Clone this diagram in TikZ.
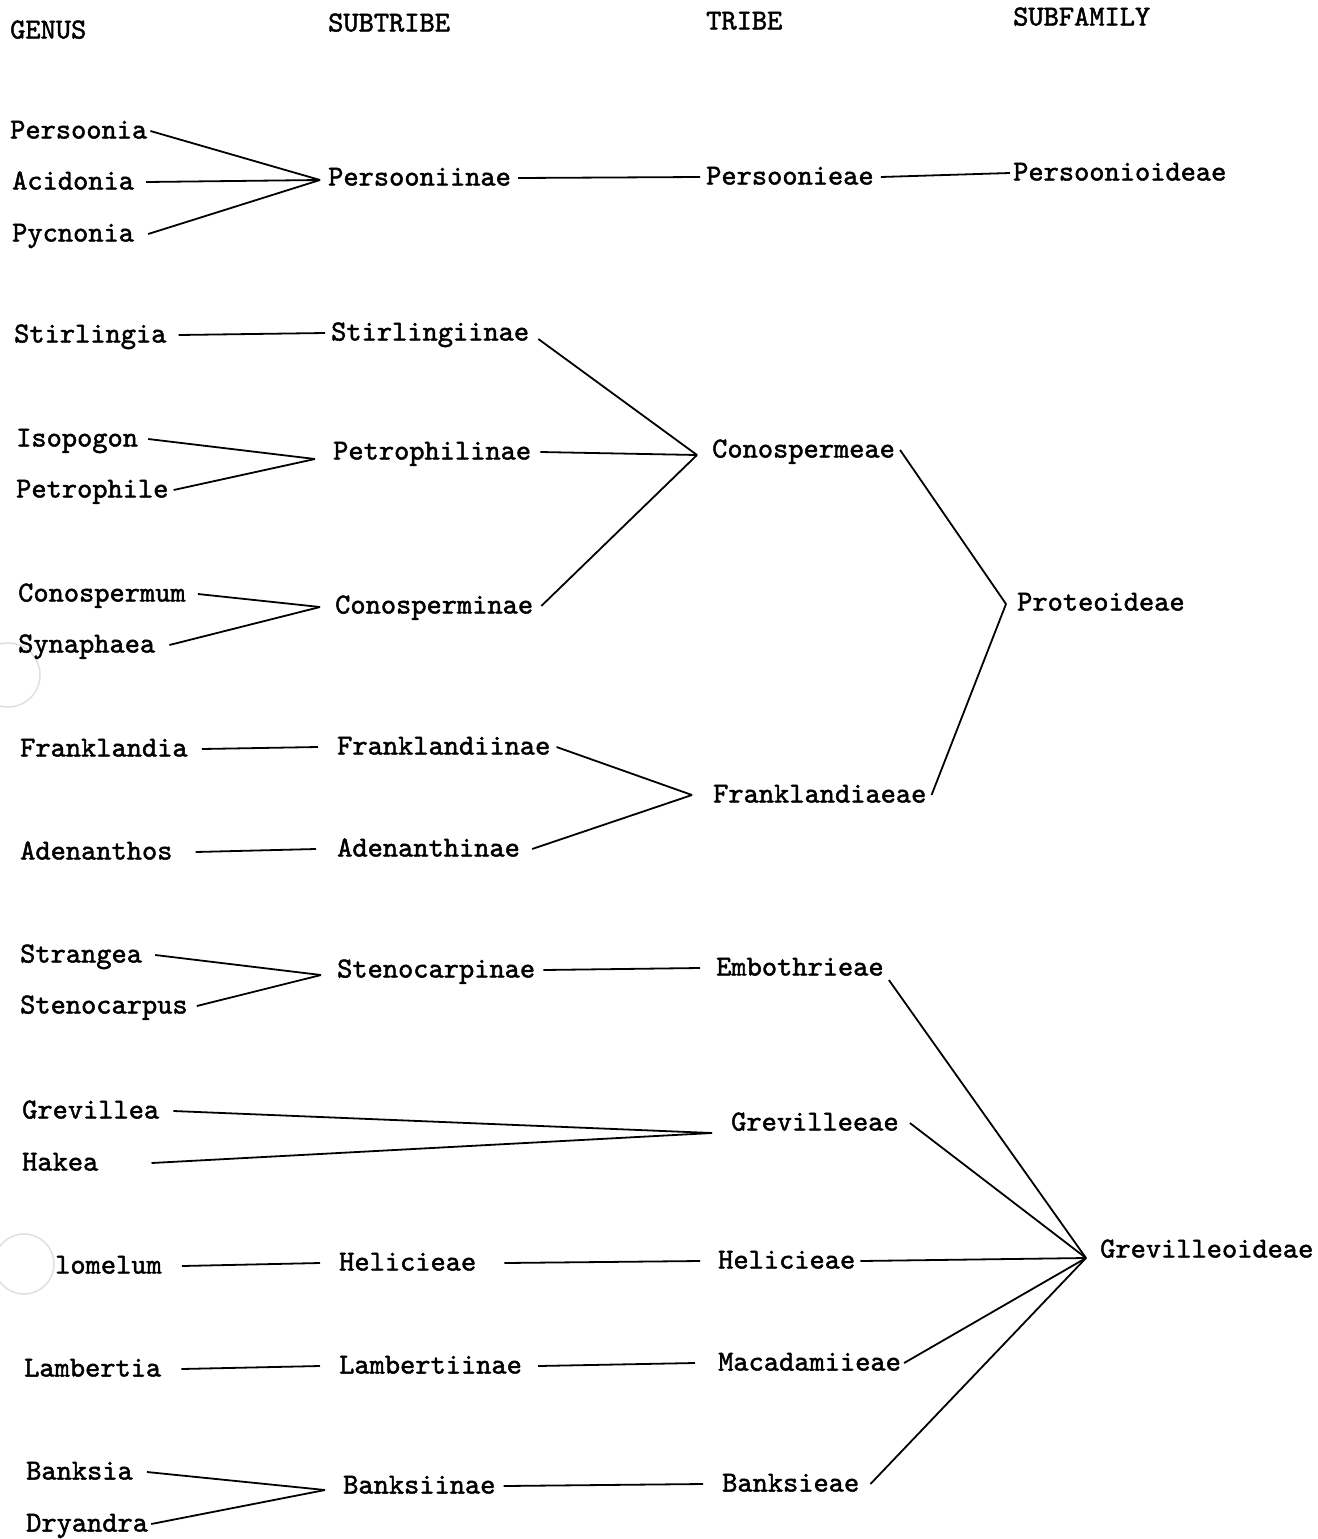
\documentclass[tikz,border=0pt]{standalone}
\usepackage{fontspec}
\setmonofont{lmmono10-regular}[Extension=.otf,FakeBold=1.6]
\begin{document}
\begin{tikzpicture}[x=1pt,y=-1pt,
  lbl/.style={anchor=west,inner sep=0pt,font=\ttfamily\fontsize{29}{34}\selectfont,text height=15pt,text depth=0pt},
  ln/.style={line width=1.8pt},
  hole/.style={draw=black!12,line width=1.5pt}]
\useasboundingbox[fill=white] (0,0) rectangle (1317,1539);
% punch-hole marks
\draw[hole] (8,675) circle (32);
\draw[hole] (24,1264) circle (30);
% headers
\node[lbl] (hgenus) at (10,31) {GENUS};
\node[lbl] (hsubtribe) at (328,24) {SUBTRIBE};
\node[lbl] (htribe) at (706,22) {TRIBE};
\node[lbl] (hsubfam) at (1013,18) {SUBFAMILY};
% genus
\node[lbl] (persoonia) at (10,131) {Persoonia};
\node[lbl] (acidonia) at (12,182) {Acidonia};
\node[lbl] (pycnonia) at (12,234) {Pycnonia};
\node[lbl] (stirlingia) at (14,335) {Stirlingia};
\node[lbl] (isopogon) at (16,439) {Isopogon};
\node[lbl] (petrophile) at (16,490) {Petrophile};
\node[lbl] (conospermum) at (18,594) {Conospermum};
\node[lbl] (synaphaea) at (18,645) {Synaphaea};
\node[lbl] (franklandia) at (20,749) {Franklandia};
\node[lbl] (adenanthos) at (20,852) {Adenanthos};
\node[lbl] (strangea) at (20,955) {Strangea};
\node[lbl] (stenocarpus) at (20,1006) {Stenocarpus};
\node[lbl] (grevillea) at (22,1111) {Grevillea};
\node[lbl] (hakea) at (22,1163) {Hakea};
\node[lbl] (lomelum) at (55,1266) {lomelum};
\node[lbl] (lambertia) at (24,1369) {Lambertia};
\node[lbl] (banksia) at (26,1472) {Banksia};
\node[lbl] (dryandra) at (26,1524) {Dryandra};
% subtribe
\node[lbl] (persooniinae) at (328,178) {Persooniinae};
\node[lbl] (stirlingiinae) at (331,333) {Stirlingiinae};
\node[lbl] (petrophilinae) at (333,452) {Petrophilinae};
\node[lbl] (conosperminae) at (335,606) {Conosperminae};
\node[lbl] (franklandiinae) at (337,747) {Franklandiinae};
\node[lbl] (adenanthinae) at (337,849) {Adenanthinae};
\node[lbl] (stenocarpinae) at (337,970) {Stenocarpinae};
\node[lbl] (helsub) at (339,1263) {Helicieae};
\node[lbl] (lambertiinae) at (339,1366) {Lambertiinae};
\node[lbl] (banksiinae) at (343,1486) {Banksiinae};
% tribe
\node[lbl] (persoonieae) at (706,177) {Persoonieae};
\node[lbl] (conospermeae) at (712,450) {Conospermeae};
\node[lbl] (franklandiaeae) at (713,795) {Franklandiaeae};
\node[lbl] (embothrieae) at (716,968) {Embothrieae};
\node[lbl] (grevilleeae) at (731,1123) {Grevilleeae};
\node[lbl] (heltri) at (718,1261) {Helicieae};
\node[lbl] (macadamiieae) at (718,1363) {Macadamiieae};
\node[lbl] (banksieae) at (722,1484) {Banksieae};
% subfamily
\node[lbl] (persoonioideae) at (1013,173) {Persoonioideae};
\node[lbl] (proteoideae) at (1017,603) {Proteoideae};
\node[lbl] (grevilleoideae) at (1100,1250) {Grevilleoideae};
% junctions
\coordinate (jPers) at (320,180);
\coordinate (jPet) at (315,459);
\coordinate (jCon) at (697,455);
\coordinate (jCs) at (320,607);
\coordinate (jProt) at (1006,604);
\coordinate (jFr) at (692,795);
\coordinate (jSt) at (321,975);
\coordinate (jGv) at (712,1133);
\coordinate (jGrev) at (1086,1258);
\coordinate (jB) at (325,1490);
% connectors
\draw[ln] ([xshift=3pt]persoonia.east) -- (jPers);
\draw[ln] ([xshift=12pt]acidonia.east) -- (jPers);
\draw[ln] ([xshift=14pt]pycnonia.east) -- (jPers);
\draw[ln] ([xshift=7pt]persooniinae.east) -- ([xshift=-6pt]persoonieae.west);
\draw[ln] ([xshift=7pt]persoonieae.east) -- ([xshift=-3pt]persoonioideae.west);
\draw[ln] ([xshift=12pt]stirlingia.east) -- ([xshift=-6pt]stirlingiinae.west);
\draw[ln] ([xshift=9pt,yshift=-6pt]stirlingiinae.east) -- (jCon);
\draw[ln] ([xshift=10pt]isopogon.east) -- (jPet);
\draw[ln] ([xshift=5pt]petrophile.east) -- (jPet);
\draw[ln] ([xshift=9pt]petrophilinae.east) -- (jCon);
\draw[ln] ([xshift=8pt]conosperminae.east) -- (jCon);
\draw[ln] ([xshift=12pt]conospermum.east) -- (jCs);
\draw[ln] ([xshift=14pt]synaphaea.east) -- (jCs);
\draw[ln] ([xshift=5pt]conospermeae.east) -- (jProt);
\draw[ln] ([xshift=5pt]franklandiaeae.east) -- (jProt);
\draw[ln] ([xshift=14pt]franklandia.east) -- ([xshift=-19pt]franklandiinae.west);
\draw[ln] ([xshift=6pt]franklandiinae.east) -- (jFr);
\draw[ln] ([xshift=23pt]adenanthos.east) -- ([xshift=-21pt]adenanthinae.west);
\draw[ln] ([xshift=12pt]adenanthinae.east) -- (jFr);
\draw[ln] ([xshift=13pt]strangea.east) -- (jSt);
\draw[ln] ([xshift=9pt]stenocarpus.east) -- (jSt);
\draw[ln] ([xshift=8pt]stenocarpinae.east) -- ([xshift=-16pt]embothrieae.west);
\draw[ln] ([xshift=5pt,yshift=-12pt]embothrieae.east) -- (jGrev);
\draw[ln] ([xshift=14pt]grevillea.east) -- (jGv);
\draw[ln] ([xshift=53pt]hakea.east) -- (jGv);
\draw[ln] ([xshift=11pt]grevilleeae.east) -- (jGrev);
\draw[ln] ([xshift=20pt]lomelum.east) -- ([xshift=-19pt]helsub.west);
\draw[ln] ([xshift=28pt]helsub.east) -- ([xshift=-18pt]heltri.west);
\draw[ln] ([xshift=5pt]heltri.east) -- (jGrev);
\draw[ln] ([xshift=20pt]lambertia.east) -- ([xshift=-19pt]lambertiinae.west);
\draw[ln] ([xshift=16pt]lambertiinae.east) -- ([xshift=-23pt]macadamiieae.west);
\draw[ln] ([xshift=3pt]macadamiieae.east) -- (jGrev);
\draw[ln] ([xshift=14pt]banksia.east) -- (jB);
\draw[ln] ([xshift=3pt]dryandra.east) -- (jB);
\draw[ln] ([xshift=8pt]banksiinae.east) -- ([xshift=-19pt]banksieae.west);
\draw[ln] ([xshift=11pt]banksieae.east) -- (jGrev);
\end{tikzpicture}
\end{document}
